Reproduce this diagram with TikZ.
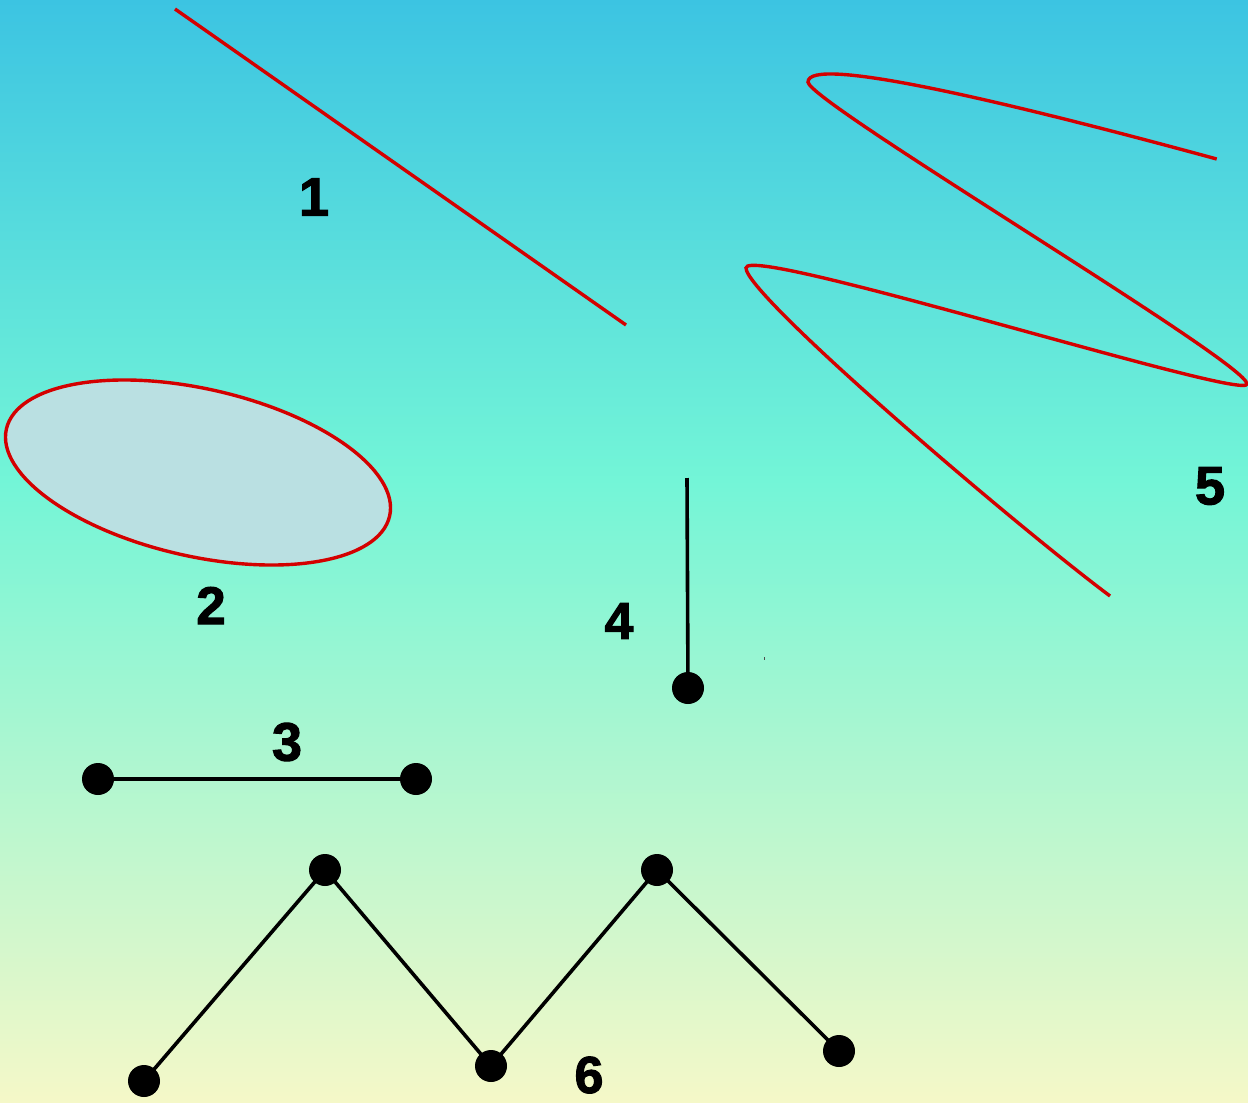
\documentclass[tikz,border=0pt]{standalone}
\usepackage{fontspec}
\newfontfamily\lblfont[BoldFeatures={FakeBold=2}]{Liberation Sans}
\definecolor{bgtop}{RGB}{60,196,226}
\definecolor{bgmid}{RGB}{115,245,215}
\definecolor{bgbot}{RGB}{245,248,200}
\definecolor{redline}{RGB}{212,0,0}
\definecolor{ellfill}{RGB}{186,224,226}
\begin{document}
\begin{tikzpicture}[x=1pt,y=-1pt,
  redstroke/.style={draw=redline,line width=3.4pt},
  blackstroke/.style={draw=black,line width=3.6pt},
  dot/.style={circle,fill=black,inner sep=0pt,minimum size=32pt},
  lbl/.style={inner sep=0pt,font=\lblfont\bfseries\fontsize{#1}{#1}\selectfont},
  lbl/.default=54pt]
\shade[top color=bgtop,bottom color=bgmid] (0,0) rectangle (1248,480);
\shade[top color=bgmid,bottom color=bgbot] (0,480) rectangle (1248,1103);
\useasboundingbox (0,0) rectangle (1248,1103);

% 1: straight line
\coordinate (l1a) at (175,9);
\coordinate (l1b) at (626,325);
\draw[redstroke] (l1a) -- (l1b);
\node[lbl] (n1) at (314,197) {1};

% 2: ellipse
\draw[redstroke,fill=ellfill,shift={(198,472.5)},rotate=-12.8]
  (0,0) ellipse [x radius=196.5pt,y radius=83.7pt];
\node[lbl=53pt] (n2) at (211,605.5) {2};

% 3: segment with two end dots
\node[dot] (d3a) at (98,779) {};
\node[dot] (d3b) at (416,779) {};
\draw[blackstroke] (d3a.center) -- (d3b.center);
\node[lbl] (n3) at (287,742) {3};

% 4: ray
\coordinate (l4top) at (687,478);
\node[dot] (d4) at (688,688) {};
\draw[blackstroke] (l4top) -- (d4.center);
\node[lbl=52pt] (n4) at (619,621) {4};

% 5: curve
\draw[redstroke] (1216.7,159) .. controls (1000,100) and (808,55) .. (808,82)
  .. controls (808,102) and (1247,362) .. (1247,384)
  .. controls (1247,402) and (746,243) .. (746,268)
  .. controls (746,295) and (1010,521) .. (1110,596);
\node[lbl] (n5) at (1210,486) {5};
\fill[black!70] (763.5,656.5) rectangle (765,659.5);

% 6: polyline
\node[dot] (z1) at (144,1081) {};
\node[dot] (z2) at (325,870) {};
\node[dot] (z3) at (491,1066) {};
\node[dot] (z4) at (657,870) {};
\node[dot] (z5) at (839,1051) {};
\draw[blackstroke,line join=round] (z1.center) -- (z2.center) -- (z3.center) -- (z4.center) -- (z5.center);
\node[lbl=52pt] (n6) at (589,1075) {6};
\end{tikzpicture}
\end{document}
